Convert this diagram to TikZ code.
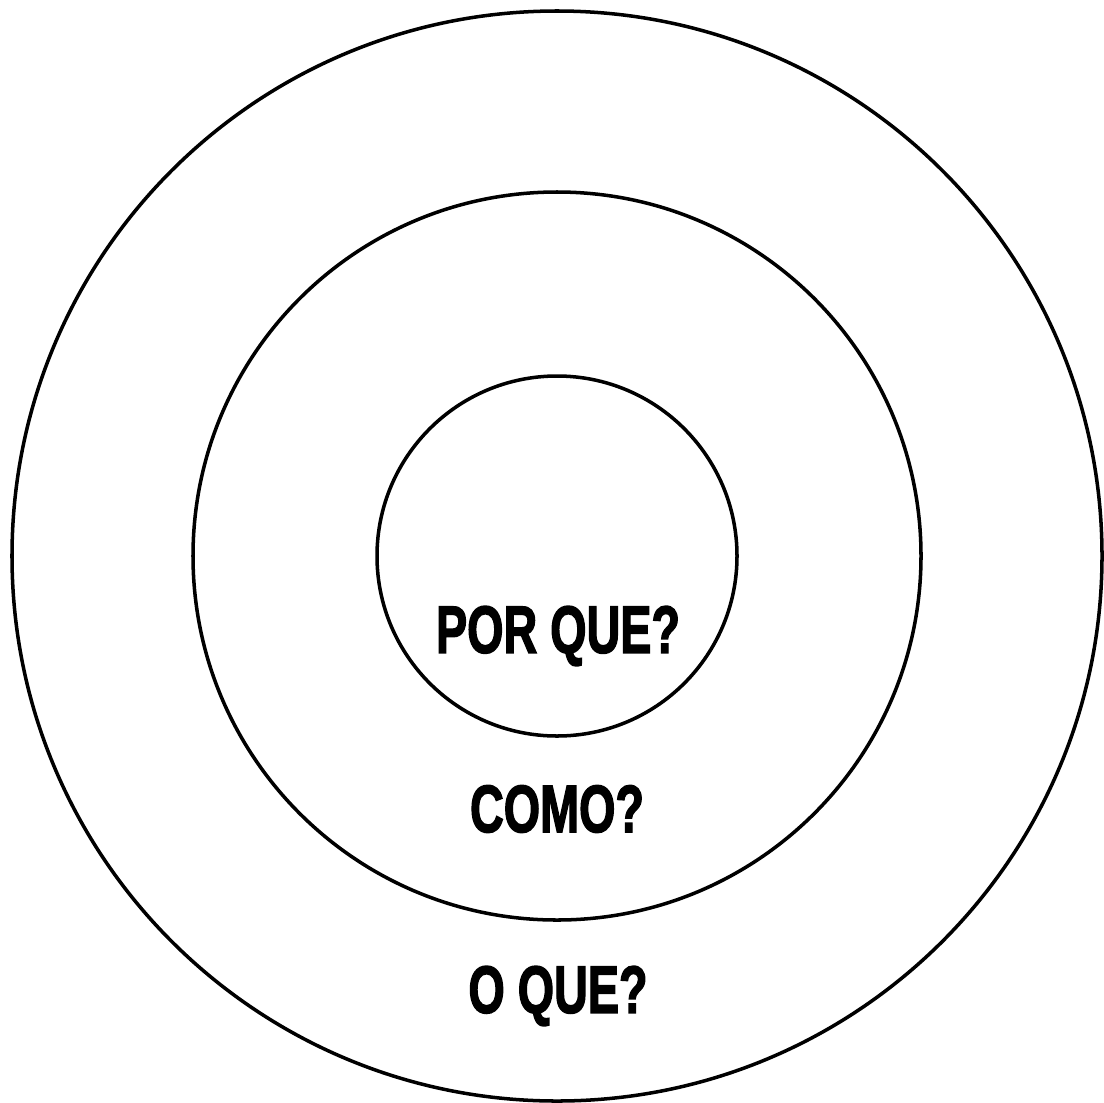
\documentclass[tikz,border=0pt]{standalone}
\usepackage{fontspec}
\setmainfont{Liberation Sans}
\newfontfamily\heavyfont[FakeBold=2.5]{Liberation Sans Bold}
\usepackage{tikz}
\usetikzlibrary{positioning}

\tikzset{
    ring/.style={draw=black,line width=2pt},
    ringtext/.style={font=\fontsize{38}{40}\heavyfont,inner sep=0pt}
}
\newcommand{\narrow}[1]{\scalebox{0.7}[1]{#1}}

\begin{document}
\begin{tikzpicture}[x=0.02cm,y=-0.02cm]
    \useasboundingbox (0,0) rectangle (1104,1102);
    \coordinate (c) at (557,556);
    % the three rings
    \draw[ring] (c) circle[radius=545];
    \draw[ring] (c) circle[radius=364];
    \draw[ring] (c) circle[radius=180];

    \node[ringtext] (why) at (558,636) {\narrow{POR QUE?}};
    \node[ringtext] (how) at (557,809) {\narrow{COMO?}};
    \node[ringtext] (what) at (558,996) {\narrow{O QUE?}};
\end{tikzpicture}
\end{document}
